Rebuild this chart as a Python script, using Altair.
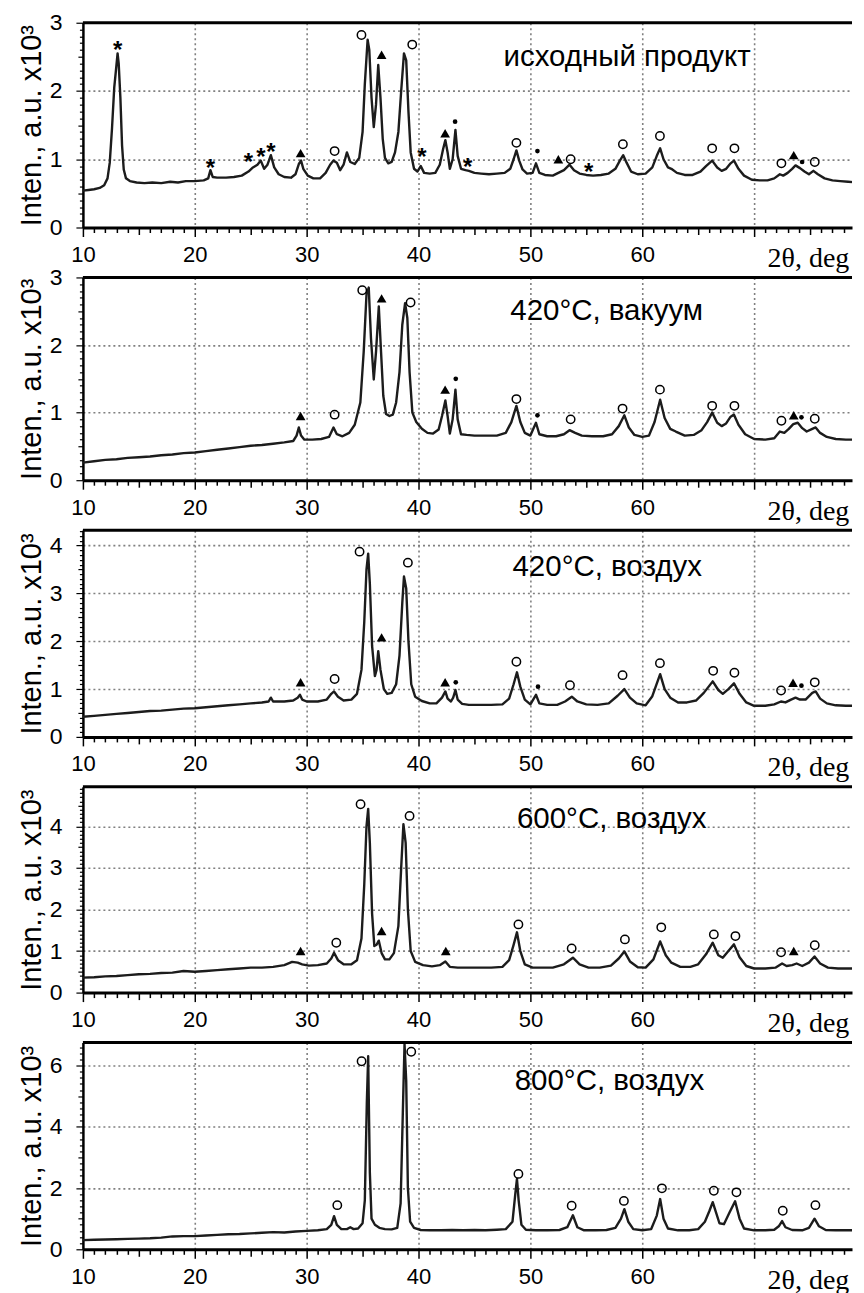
import altair as alt
import pandas as pd

# ---------------- data ----------------
P1_X = [10.0,10.5,11.0,11.5,11.9,12.2,12.4,12.6,12.8,12.95,13.1,13.2,13.35,13.5,13.65,13.85,14.2,14.8,15.5,16.2,17.0,17.8,18.5,19.2,20.0,20.8,21.2,21.4,21.6,22.0,22.8,23.5,24.2,24.8,25.2,25.6,25.9,26.2,26.5,26.8,27.1,27.5,28.0,28.6,29.0,29.3,29.5,29.7,30.1,30.6,31.2,31.7,32.1,32.4,32.7,33.0,33.3,33.6,33.9,34.3,34.7,35.0,35.2,35.45,35.6,35.8,36.0,36.2,36.4,36.6,36.8,37.0,37.3,37.6,37.9,38.2,38.45,38.7,38.9,39.1,39.3,39.6,39.9,40.2,40.5,41.0,41.5,41.9,42.2,42.4,42.6,42.8,43.05,43.3,43.5,43.8,44.2,44.5,45.0,45.6,46.3,47.0,47.7,48.2,48.5,48.75,49.0,49.3,49.7,50.2,50.5,50.8,51.3,52.0,52.5,53.0,53.5,53.9,54.4,55.0,55.6,56.3,57.0,57.6,58.0,58.3,58.6,59.0,59.6,60.3,60.9,61.3,61.6,61.9,62.3,62.6,63.1,63.8,64.5,65.2,65.7,66.25,66.7,67.1,67.5,67.9,68.2,68.6,69.1,69.8,70.5,71.2,71.8,72.3,72.6,73.0,73.4,73.7,74.1,74.5,74.9,75.3,75.7,76.3,77.0,77.7,78.4,79.2,80.0]
P1_Y = [0.54,0.55,0.56,0.58,0.62,0.72,0.95,1.45,2.05,2.3,2.55,2.4,1.9,1.2,0.85,0.72,0.68,0.66,0.65,0.66,0.65,0.67,0.66,0.68,0.68,0.69,0.72,0.84,0.74,0.73,0.73,0.74,0.76,0.82,0.88,0.92,0.98,0.86,0.92,1.06,0.88,0.78,0.74,0.73,0.78,0.93,0.98,0.86,0.76,0.72,0.72,0.8,0.92,0.98,0.95,0.84,0.92,1.1,0.96,0.93,1.02,1.4,2.1,2.75,2.6,1.9,1.47,1.8,2.38,1.9,1.3,1.02,0.94,0.96,1.1,1.4,2.0,2.55,2.45,1.7,1.1,0.86,0.82,0.9,0.8,0.79,0.8,0.92,1.15,1.28,1.1,0.86,1.0,1.43,1.05,0.86,0.84,0.83,0.8,0.79,0.78,0.79,0.8,0.86,1.0,1.13,0.98,0.85,0.79,0.8,0.94,0.8,0.77,0.76,0.8,0.84,0.92,0.84,0.79,0.77,0.76,0.77,0.79,0.86,0.98,1.06,0.95,0.82,0.78,0.79,0.88,1.05,1.16,1.0,0.88,0.86,0.8,0.77,0.77,0.82,0.9,0.98,0.88,0.83,0.86,0.94,0.98,0.86,0.76,0.7,0.69,0.69,0.72,0.78,0.76,0.8,0.86,0.91,0.87,0.82,0.78,0.83,0.78,0.72,0.69,0.68,0.67,0.66,0.66]

P2_X = [10.0,11.0,12.0,13.0,14.0,15.0,16.0,17.0,18.0,19.0,20.0,21.0,22.0,23.0,24.0,25.0,26.0,27.0,28.0,28.8,29.1,29.3,29.5,29.8,30.5,31.3,32.0,32.4,32.7,33.2,33.8,34.3,34.8,35.1,35.35,35.55,35.75,36.0,36.2,36.45,36.65,36.85,37.1,37.4,37.7,38.0,38.3,38.55,38.8,39.0,39.2,39.45,39.8,40.3,40.8,41.3,41.8,42.1,42.4,42.6,42.8,43.05,43.3,43.5,43.8,44.3,45.0,46.0,47.0,47.8,48.3,48.75,49.1,49.5,50.0,50.5,50.8,51.5,52.3,53.0,53.5,54.0,54.6,55.5,56.5,57.3,57.9,58.4,58.8,59.3,60.0,60.6,61.1,61.6,62.0,62.5,63.0,63.8,64.6,65.3,65.8,66.25,66.7,67.1,67.5,67.9,68.2,68.6,69.2,70.0,71.0,71.8,72.3,72.7,73.1,73.5,73.9,74.3,74.7,75.2,75.5,75.9,76.5,77.3,78.2,79.0,80.0]
P2_Y = [0.26,0.28,0.3,0.31,0.33,0.34,0.35,0.37,0.38,0.4,0.41,0.43,0.45,0.47,0.49,0.51,0.52,0.54,0.56,0.58,0.66,0.78,0.66,0.6,0.6,0.61,0.64,0.78,0.68,0.65,0.7,0.82,1.15,1.9,2.75,2.85,2.1,1.49,1.9,2.57,1.9,1.25,0.98,0.95,0.97,1.15,1.6,2.3,2.62,2.4,1.6,1.0,0.86,0.76,0.7,0.69,0.75,0.95,1.18,0.95,0.69,0.9,1.34,0.9,0.68,0.67,0.66,0.66,0.66,0.7,0.86,1.1,0.86,0.7,0.66,0.85,0.68,0.65,0.65,0.68,0.74,0.7,0.66,0.65,0.65,0.68,0.8,0.96,0.78,0.67,0.64,0.66,0.86,1.19,0.92,0.76,0.72,0.66,0.67,0.74,0.86,1.0,0.85,0.8,0.84,0.94,0.97,0.82,0.68,0.61,0.6,0.62,0.72,0.7,0.76,0.83,0.85,0.77,0.72,0.76,0.78,0.7,0.64,0.61,0.6,0.6,0.6]

P3_X = [10.0,11.0,12.0,13.0,14.0,15.0,16.0,17.0,18.0,19.0,20.0,21.0,22.0,23.0,24.0,25.0,26.0,26.6,26.8,27.0,28.0,28.8,29.2,29.4,29.6,30.0,31.0,31.8,32.2,32.45,32.8,33.3,34.0,34.5,34.9,35.15,35.35,35.5,35.65,35.85,36.1,36.25,36.4,36.6,36.9,37.2,37.6,38.0,38.3,38.55,38.7,38.9,39.1,39.35,39.7,40.3,41.0,41.6,42.1,42.4,42.6,42.9,43.1,43.3,43.5,43.9,44.5,45.5,46.5,47.5,48.1,48.5,48.8,49.1,49.5,50.0,50.5,50.8,51.5,52.4,53.1,53.7,54.2,55.0,56.0,57.0,57.8,58.4,58.9,59.5,60.3,60.9,61.6,62.0,62.5,63.2,64.0,64.8,65.5,66.3,66.8,67.2,67.7,68.2,68.7,69.3,70.0,71.0,71.8,72.4,72.8,73.3,73.7,74.1,74.6,75.2,75.5,75.9,76.5,77.3,78.2,79.0,80.0]
P3_Y = [0.42,0.44,0.46,0.48,0.5,0.52,0.54,0.55,0.57,0.59,0.6,0.62,0.64,0.66,0.68,0.7,0.72,0.74,0.82,0.74,0.74,0.76,0.82,0.88,0.78,0.74,0.74,0.78,0.9,0.95,0.84,0.76,0.78,0.9,1.4,2.4,3.5,3.83,3.2,1.9,1.27,1.4,1.79,1.4,1.0,0.9,0.92,1.1,1.7,2.8,3.35,3.1,2.0,1.1,0.84,0.75,0.7,0.7,0.82,0.95,0.8,0.74,0.82,0.98,0.78,0.69,0.67,0.67,0.67,0.68,0.8,1.1,1.35,1.05,0.78,0.68,0.88,0.7,0.67,0.67,0.74,0.84,0.74,0.68,0.67,0.7,0.86,1.0,0.82,0.7,0.66,0.85,1.31,1.0,0.82,0.72,0.72,0.76,0.92,1.16,0.98,0.9,1.0,1.12,0.9,0.72,0.65,0.65,0.68,0.74,0.72,0.78,0.82,0.78,0.78,0.92,0.95,0.8,0.7,0.66,0.65,0.65,0.65]

P4_X = [10.0,11.0,12.0,13.0,14.0,15.0,16.0,17.0,18.0,19.0,20.0,21.0,22.0,23.0,24.0,25.0,26.0,27.0,28.0,28.7,29.2,29.6,30.2,31.0,31.8,32.2,32.45,32.8,33.3,34.0,34.5,34.9,35.15,35.35,35.5,35.65,35.85,36.05,36.25,36.45,36.7,37.0,37.4,37.8,38.2,38.45,38.65,38.85,39.05,39.3,39.7,40.4,41.2,41.9,42.4,42.8,43.5,44.5,45.5,46.5,47.5,48.1,48.5,48.8,49.1,49.5,50.2,51.0,52.0,53.0,53.8,54.4,55.2,56.2,57.2,57.9,58.4,58.9,59.6,60.3,61.0,61.6,62.1,62.6,63.4,64.3,65.0,65.7,66.3,66.8,67.2,67.7,68.2,68.7,69.3,70.0,71.0,71.9,72.5,72.9,73.4,73.8,74.3,74.9,75.4,75.9,76.6,77.5,78.5,79.5,80.0]
P4_Y = [0.36,0.37,0.39,0.4,0.42,0.44,0.45,0.47,0.48,0.52,0.5,0.52,0.54,0.56,0.58,0.6,0.6,0.62,0.66,0.74,0.72,0.68,0.65,0.66,0.7,0.82,0.96,0.78,0.68,0.68,0.78,1.3,2.6,4.0,4.42,3.6,1.9,1.12,1.15,1.25,0.95,0.8,0.8,0.95,1.6,3.0,4.05,3.6,2.0,1.0,0.74,0.66,0.63,0.66,0.75,0.62,0.6,0.6,0.6,0.6,0.62,0.78,1.15,1.45,1.0,0.68,0.6,0.6,0.6,0.68,0.84,0.68,0.6,0.6,0.65,0.82,0.99,0.75,0.61,0.6,0.8,1.23,0.9,0.72,0.62,0.62,0.68,0.92,1.2,0.9,0.84,1.0,1.16,0.85,0.64,0.58,0.58,0.6,0.7,0.64,0.66,0.7,0.64,0.72,0.87,0.7,0.6,0.58,0.58,0.58,0.58]

P5_X = [10.0,11.0,12.0,13.0,14.0,15.0,16.0,17.0,18.0,19.0,20.0,21.0,22.0,23.0,24.0,25.0,26.0,27.0,28.0,29.0,30.0,31.0,31.8,32.2,32.45,32.7,33.1,33.6,33.9,34.2,34.6,35.0,35.2,35.38,35.5,35.55,35.65,35.8,36.1,36.5,37.0,37.6,38.1,38.4,38.6,38.75,38.9,39.05,39.25,39.6,40.2,41.0,42.0,43.0,44.0,45.0,46.0,47.0,47.8,48.4,48.65,48.8,48.95,49.2,49.6,50.5,51.5,52.6,53.3,53.8,54.2,54.8,55.8,56.8,57.6,58.1,58.4,58.75,59.2,60.0,60.8,61.3,61.6,61.9,62.3,63.2,64.2,65.0,65.6,66.0,66.3,66.6,66.9,67.3,67.8,68.3,68.7,69.1,70.0,71.0,71.8,72.2,72.5,72.8,73.4,74.3,74.9,75.4,75.8,76.4,77.3,78.3,79.2,80.0]
P5_Y = [0.3,0.31,0.32,0.33,0.34,0.35,0.36,0.38,0.42,0.43,0.43,0.45,0.47,0.49,0.5,0.52,0.54,0.56,0.55,0.58,0.6,0.62,0.66,0.8,1.08,0.8,0.66,0.66,0.72,0.66,0.68,0.85,1.6,4.8,6.3,5.0,2.5,1.0,0.8,0.7,0.66,0.65,0.7,1.5,4.5,6.7,5.5,2.0,0.9,0.7,0.63,0.62,0.62,0.63,0.62,0.63,0.62,0.64,0.66,0.9,1.8,2.3,1.6,0.8,0.64,0.62,0.62,0.63,0.72,1.11,0.72,0.62,0.62,0.63,0.7,1.0,1.31,0.9,0.66,0.62,0.66,1.1,1.64,1.0,0.68,0.62,0.62,0.66,0.9,1.25,1.54,1.2,0.85,0.82,1.2,1.57,1.0,0.68,0.62,0.62,0.64,0.75,0.92,0.72,0.63,0.62,0.7,1.0,0.75,0.63,0.62,0.62,0.62,0.62]

# phase markers: s = asterisk, o = open circle, t = triangle, d = dot
P1_MX = [13.1,21.4,24.8,25.9,26.8,40.3,44.4,55.2, 34.9,39.44,32.5,48.75,53.6,58.27,61.58,66.25,68.24,72.44,75.42, 29.46,36.7,42.38,52.5,73.54, 43.27,50.63,74.29]
P1_MY = [2.68,0.94,1.03,1.10,1.18,1.10,0.96,0.88, 2.82,2.68,1.12,1.24,1.0,1.22,1.34,1.16,1.16,0.94,0.96, 1.09,2.53,1.38,1.0,1.06, 1.55,1.12,0.96]
P1_MK = ["s"]*8 + ["o"]*11 + ["t"]*5 + ["d"]*3

P2_MX = [32.5,34.97,39.29,48.75,53.6,58.24,61.58,66.25,68.24,72.44,75.42, 29.46,36.7,42.38,73.54, 43.33,50.63,74.23]
P2_MY = [0.97,2.81,2.63,1.2,0.9,1.06,1.34,1.1,1.1,0.88,0.91, 0.95,2.69,1.34,0.96, 1.5,0.96,0.93]
P2_MK = ["o"]*11 + ["t"]*4 + ["d"]*3

P3_MX = [32.5,34.73,39.05,48.75,53.54,58.24,61.58,66.34,68.24,72.41,75.42, 29.46,36.7,42.38,73.48, 43.33,50.68,74.23]
P3_MY = [1.21,3.87,3.64,1.57,1.08,1.29,1.54,1.38,1.34,0.97,1.14, 1.14,2.08,1.14,1.13, 1.14,1.05,1.07]
P3_MK = ["o"]*11 + ["t"]*4 + ["d"]*3

P4_MX = [32.65,34.82,39.2,48.93,53.69,58.45,61.7,66.4,68.33,72.41,75.42, 29.46,36.7,42.44,73.54]
P4_MY = [1.2,4.53,4.25,1.64,1.06,1.28,1.57,1.4,1.36,0.97,1.14, 1.0,1.48,1.0,1.0]
P4_MK = ["o"]*11 + ["t"]*4

P5_MX = [32.74,34.91,39.35,48.93,53.69,58.36,61.76,66.4,68.42,72.56,75.48]
P5_MY = [1.44,6.14,6.45,2.46,1.42,1.58,1.99,1.91,1.86,1.26,1.44]
P5_MK = ["o"]*11

SAMPLES = ["исходный продукт", "420°C, вакуум", "420°C, воздух", "600°C, воздух", "800°C, воздух"]
SAMPLE_X = [47.6, 48.2, 48.4, 48.8, 48.6]
SAMPLE_Y = [2.5, 2.51, 3.56, 4.17, 5.48]

Y_MAX = [3.0, 3.0, 4.32, 4.95, 6.75]
Y_MAJOR = [1, 1, 1, 1, 2]
Y_MINOR = [0.1, 0.1, 0.1, 0.1, 0.2]
HEIGHTS = [205, 203, 207, 206, 207]

X_MIN, X_MAX = 10, 78.75
X_TICKS = list(range(10, 79))
Y_TITLE = "Inten., a.u. x10³"
X_TITLE_LABEL = "2θ, deg"

XS = [P1_X, P2_X, P3_X, P4_X, P5_X]
YS = [P1_Y, P2_Y, P3_Y, P4_Y, P5_Y]
MXS = [P1_MX, P2_MX, P3_MX, P4_MX, P5_MX]
MYS = [P1_MY, P2_MY, P3_MY, P4_MY, P5_MY]
MKS = [P1_MK, P2_MK, P3_MK, P4_MK, P5_MK]

SANS = "Liberation Sans"
SERIF = "Liberation Serif"
WIDTH = 770


def panel(i):
    ymax = Y_MAX[i]
    M = Y_MAJOR[i]
    m = Y_MINOR[i]
    n = int(round(ymax / m + 1e-9))
    yvals = [round(k * m, 2) for k in range(n + 1) if k * m <= ymax + 1e-9]
    major_test = f"abs(datum.value/{M} - round(datum.value/{M})) < 0.001"
    half_test = f"abs(datum.value/{M/2} - round(datum.value/{M/2})) < 0.001"

    xsc = alt.Scale(domain=[X_MIN, X_MAX], nice=False, zero=False)
    ysc = alt.Scale(domain=[0, ymax], nice=False, zero=True)

    xaxis = alt.Axis(
        values=X_TICKS, title=None, orient="bottom",
        labelExpr=f"datum.value == 70 ? '{X_TITLE_LABEL}' : (datum.value % 10 == 0 ? datum.label : '')",
        labelOverlap=False, labelFlush=False,
        labelFont={"condition": {"test": "datum.value == 70", "value": SERIF}, "value": SANS},
        labelFontSize={"condition": {"test": "datum.value == 70", "value": 28}, "value": 22},
        labelAlign={"condition": {"test": "datum.value == 70", "value": "left"}, "value": "center"},
        labelOffset={"condition": {"test": "datum.value == 70", "value": 13}, "value": 0},
        labelColor="black", labelPadding=8,
        tickSize={"condition": [{"test": "datum.value % 10 == 0", "value": 9},
                                {"test": "datum.value % 5 == 0", "value": 7}], "value": 5},
        tickColor="black", tickWidth=1.5,
        domainColor="black", domainWidth=3,
        grid=True, gridDash=[2, 3], gridColor="#808080", gridWidth=1.6,
        gridOpacity={"condition": {"test": "datum.value % 10 == 0 && datum.value > 10", "value": 1}, "value": 0},
    )
    yaxis = alt.Axis(
        values=yvals, title=Y_TITLE, orient="left",
        labelExpr=f"({major_test}) ? format(datum.value, '.0f') : ''",
        labelOverlap=False, labelFlush=False,
        labelFont=SANS, labelFontSize=23, labelColor="black", labelPadding=14,
        tickSize={"condition": [{"test": major_test, "value": 7},
                                {"test": half_test, "value": 5}], "value": 3.5},
        tickColor="black", tickWidth=1.2,
        domainColor="black", domainWidth=2.5,
        grid=True, gridDash=[2, 3], gridColor="#808080", gridWidth=1.6,
        gridOpacity={"condition": {"test": f"({major_test}) && datum.value > 0 && datum.value < {ymax - 0.01}", "value": 1}, "value": 0},
        titleFont=SANS, titleFontSize=29, titleFontWeight="normal", titleColor="black",
        titlePadding=3,
    )

    df = pd.DataFrame({"x": XS[i], "y": YS[i]})
    ex = alt.X("x:Q", scale=xsc, axis=xaxis)
    ey = alt.Y("y:Q", scale=ysc, axis=yaxis)
    line = alt.Chart(df).mark_line(color="#1c1c1c", strokeWidth=2.4, clip=True,
                                   strokeJoin="round").encode(x=ex, y=ey)

    mk = pd.DataFrame({"x": MXS[i], "y": MYS[i], "k": MKS[i]})
    layers = [line]
    if (mk.k == "o").any():
        layers.append(alt.Chart(mk).transform_filter(alt.datum.k == "o").mark_point(
            shape="circle", filled=False, size=70, stroke="black", strokeWidth=1.5, opacity=1
        ).encode(x=ex, y=ey))
    if (mk.k == "t").any():
        layers.append(alt.Chart(mk).transform_filter(alt.datum.k == "t").mark_point(
            shape="triangle-up", filled=True, size=95, color="black", opacity=1
        ).encode(x=ex, y=ey))
    if (mk.k == "d").any():
        layers.append(alt.Chart(mk).transform_filter(alt.datum.k == "d").mark_point(
            shape="circle", filled=True, size=22, color="black", opacity=1
        ).encode(x=ex, y=ey))
    if (mk.k == "s").any():
        layers.append(alt.Chart(mk).transform_filter(alt.datum.k == "s").mark_text(
            text="*", font=SANS, fontSize=24, fontWeight="bold", color="black",
            baseline="middle", dy=6
        ).encode(x=ex, y=ey))

    lab = pd.DataFrame({"x": [SAMPLE_X[i]], "y": [SAMPLE_Y[i]], "t": [SAMPLES[i]]})
    layers.append(alt.Chart(lab).mark_text(
        align="left", baseline="middle", font=SANS, fontSize=29.5, color="black"
    ).encode(x=ex, y=ey, text="t:N"))

    top = pd.DataFrame({"y": [ymax]})
    layers.append(alt.Chart(top).mark_rule(color="black", strokeWidth=3).encode(y=ey))

    return alt.layer(*layers).properties(width=WIDTH, height=HEIGHTS[i])


chart = alt.vconcat(*[panel(i) for i in range(5)], spacing=50, bounds="flush").properties(
    padding={"left": 9, "top": 3, "right": 2, "bottom": 0},
    background="white",
).configure_view(stroke=None)

chart.save("out.html", embed_options={"renderer": "svg", "actions": False})
